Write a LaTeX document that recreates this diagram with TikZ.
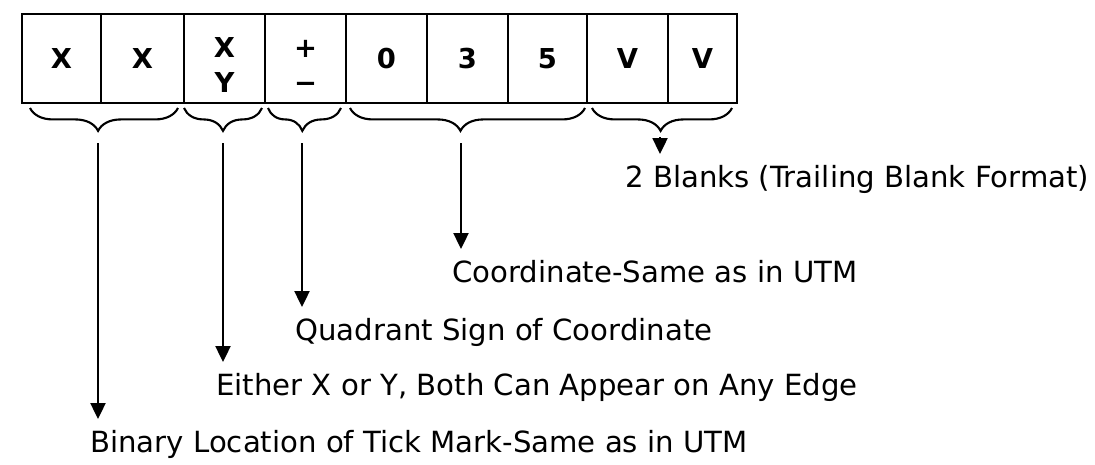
\documentclass[tikz,border=0pt]{standalone}
\usepackage{fontspec}
\setmainfont{DejaVu Sans}
\usetikzlibrary{arrows.meta,decorations.pathreplacing}

\tikzset{
	cell/.style={draw, line width=1.4pt, inner sep=0pt, minimum height=1.78cm,
		align=center, font=\fontsize{15.6}{18}\selectfont\bfseries},
	grp/.style={decorate, line width=1.2pt,
		decoration={brace, mirror, amplitude=13pt, aspect=#1}},
	grp/.default=0.5,
	note/.style={inner xsep=0pt, inner ysep=6.5pt, text height=12.1pt,
		font=\fontsize{16.6}{20}\selectfont},
	pointer/.style={line width=1.2pt, -{Triangle[width=8.5pt,length=9pt]}}
}

\begin{document}
\begin{tikzpicture}[x=0.02cm, y=-0.02cm]
	\useasboundingbox (0,0) rectangle (1095,464);
	
	% the nine character cells
	\foreach \l/\r/\txt [count=\i] in {22/101/X, 101/184/X,
		184/265/{\rule{0pt}{19pt}X\\[2pt]Y}, 265/346/{\rule{0pt}{19pt}+\\[2pt]−},
		346/427/0, 427/508/3, 508/587/5, 587/668/V, 668/737/V}
		\node[cell, minimum width={(\r-\l)*0.02cm}] (c\i) at ({(\l+\r)/2},58.5) {\txt};
	
	% braces under the groups
	\draw[grp=0.46] (30,108) -- (178,108);
	\draw[grp] (184,108) -- (262,108);
	\draw[grp=0.47] (268,108) -- (341,108);
	\draw[grp=0.47] (350,108) -- (585,108);
	\draw[grp=0.49] (592,108) -- (732,108);
	
	\coordinate (g1) at (98,143);
	\coordinate (g2) at (223,143);
	\coordinate (g3) at (302,143);
	\coordinate (g4) at (461,143);
	\coordinate (g5) at (660,137);
	
	% explanations
	\node[note, anchor=base west] (l1) at (90,452) {Binary Location of Tick Mark-Same as in UTM};
	\node[note, anchor=base west] (l2) at (216,395) {Either X or Y, Both Can Appear on Any Edge};
	\node[note, anchor=base west] (l3) at (295,340) {Quadrant Sign of Coordinate};
	\node[note, anchor=base west] (l4) at (452,282) {Coordinate-Same as in UTM};
	\node[note, anchor=base west] (l5) at (625,187) {2 Blanks (Trailing Blank Format)};
	
	\foreach \i in {1,...,5}
		\draw[pointer] (g\i) -- (g\i |- l\i.north);
\end{tikzpicture}
\end{document}
